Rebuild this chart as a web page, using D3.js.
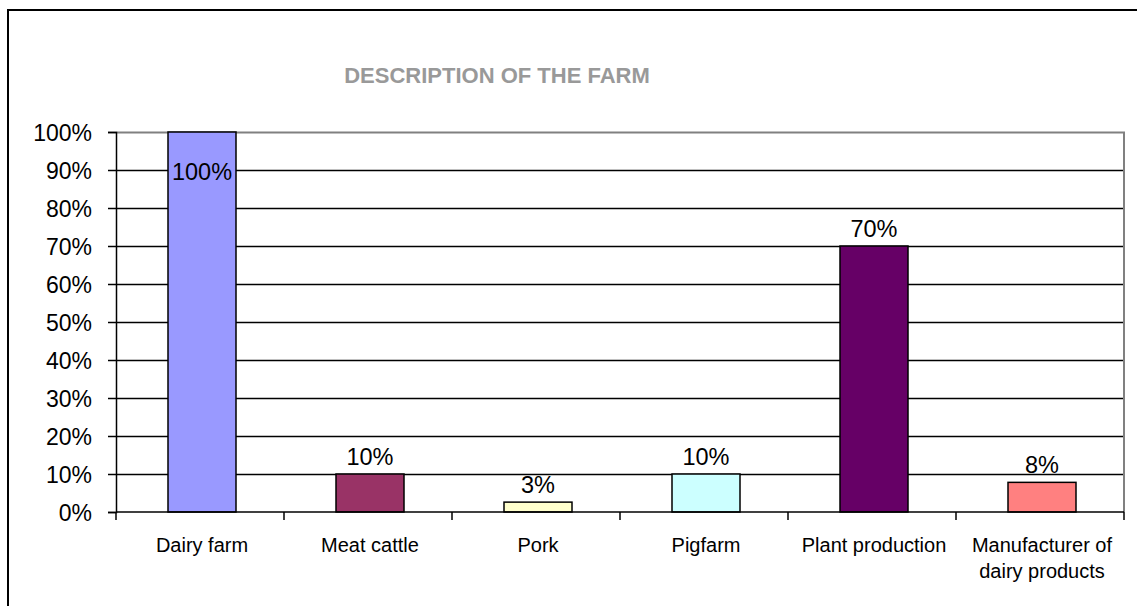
<!DOCTYPE html>
<html>
<head>
<meta charset="utf-8">
<script src="https://cdn.jsdelivr.net/npm/d3@7"></script>
<style>
  html, body { margin: 0; padding: 0; background: #fff; }
  svg { display: block; font-family: "Liberation Sans", Arial, sans-serif; }
</style>
</head>
<body>
<svg id="chart" width="1137" height="606"></svg>
<script>
const title = "DESCRIPTION OF THE FARM";
const categories = ["Dairy farm", "Meat cattle", "Pork", "Pigfarm", "Plant production", "Manufacturer of dairy products"];
const values = [100, 10, 2.6, 10, 70, 7.8];
const barColors = ["#9999FF", "#993366", "#FFFFCC", "#CCFFFF", "#660066", "#FF8080"];
const yTickValues = [0, 10, 20, 30, 40, 50, 60, 70, 80, 90, 100];
const yTickLabels = ["0%", "10%", "20%", "30%", "40%", "50%", "60%", "70%", "80%", "90%", "100%"];

const svg = d3.select("#chart");
const W = 1137, H = 606;
const plot = { left: 116, right: 1124, top: 132, bottom: 512 };

// outer chart border (extends beyond the visible area on right/bottom)
svg.append("rect")
  .attr("x", 8).attr("y", 10)
  .attr("width", W + 20).attr("height", H + 20)
  .attr("fill", "#fff").attr("stroke", "#000").attr("stroke-width", 2);

const x = d3.scaleBand()
  .domain(categories)
  .range([plot.left + 2, plot.right + 2])
  .paddingInner(100 / 168)
  .paddingOuter(50 / 168);

const y = d3.scaleLinear().domain([0, 100]).range([plot.bottom, plot.top]);

// gridlines
svg.append("g").selectAll("line")
  .data(yTickValues.filter(v => v > 0 && v < 100))
  .join("line")
  .attr("x1", plot.left).attr("x2", plot.right)
  .attr("y1", d => Math.round(y(d)) + 0.5).attr("y2", d => Math.round(y(d)) + 0.5)
  .attr("stroke", "#000").attr("stroke-width", 1.5);

// plot area border top/right (gray)
svg.append("path")
  .attr("d", `M${plot.left},${y(100) + 0.5}H${plot.right}V${plot.bottom}`)
  .attr("fill", "none").attr("stroke", "#808080").attr("stroke-width", 2);

// bars
svg.append("g").selectAll("rect")
  .data(categories)
  .join("rect")
  .attr("x", d => x(d))
  .attr("width", x.bandwidth())
  .attr("y", (d, i) => y(values[i]))
  .attr("height", (d, i) => y(0) - y(values[i]))
  .attr("fill", (d, i) => barColors[i])
  .attr("stroke", "#000").attr("stroke-width", 1.5);

// Y axis
const yAxis = d3.axisLeft(y)
  .tickValues(yTickValues)
  .tickFormat((d, i) => yTickLabels[i])
  .tickSize(8)
  .tickPadding(16);
const gy = svg.append("g").attr("transform", `translate(${plot.left},0)`).call(yAxis);
gy.select(".domain").attr("stroke", "#000").attr("stroke-width", 1.5);
gy.selectAll(".tick line").attr("stroke", "#000").attr("stroke-width", 1.5);
gy.selectAll(".tick text")
  .attr("font-family", "Liberation Sans, Arial, sans-serif")
  .attr("font-size", 23)
  .attr("fill", "#000")
  .attr("dy", "0.36em");

// X axis baseline
svg.append("line")
  .attr("x1", plot.left).attr("x2", plot.right)
  .attr("y1", y(0)).attr("y2", y(0))
  .attr("stroke", "#000").attr("stroke-width", 1.5);

// X axis boundary ticks
const boundaries = d3.range(categories.length + 1).map(i => plot.left + i * x.step());
svg.append("g").selectAll("line")
  .data(boundaries)
  .join("line")
  .attr("x1", d => Math.round(d)).attr("x2", d => Math.round(d))
  .attr("y1", y(0)).attr("y2", y(0) + 8)
  .attr("stroke", "#000").attr("stroke-width", 1.5);

// category labels with wrapping
const catG = svg.append("g")
  .attr("font-size", 20)
  .attr("fill", "#000")
  .attr("text-anchor", "middle");
categories.forEach(cat => {
  const cx = x(cat) + x.bandwidth() / 2;
  const t = catG.append("text").attr("x", cx).attr("y", 552);
  const words = cat.split(" ");
  let line = [];
  let tspan = t.append("tspan").attr("x", cx).attr("dy", 0);
  words.forEach(w => {
    line.push(w);
    tspan.text(line.join(" "));
    if (tspan.node().getComputedTextLength() > 160 && line.length > 1) {
      line.pop();
      tspan.text(line.join(" "));
      line = [w];
      tspan = t.append("tspan").attr("x", cx).attr("dy", 26).text(w);
    }
  });
});

// data labels
const fmt = d3.format(".0%");
const labelSize = 23.5;
svg.append("g").selectAll("text")
  .data(categories)
  .join("text")
  .attr("x", d => x(d) + x.bandwidth() / 2)
  .attr("y", (d, i) => {
    const above = y(values[i]) - 9;
    return (above - labelSize < plot.top) ? y(values[i]) + 48 : above;
  })
  .attr("text-anchor", "middle")
  .attr("font-size", labelSize)
  .attr("fill", "#000")
  .text((d, i) => fmt(values[i] / 100));

// title
svg.append("text")
  .attr("x", 497).attr("y", 83)
  .attr("text-anchor", "middle")
  .attr("font-size", 22)
  .attr("font-weight", "bold")
  .attr("fill", "#999999")
  .text(title);
</script>
</body>
</html>
